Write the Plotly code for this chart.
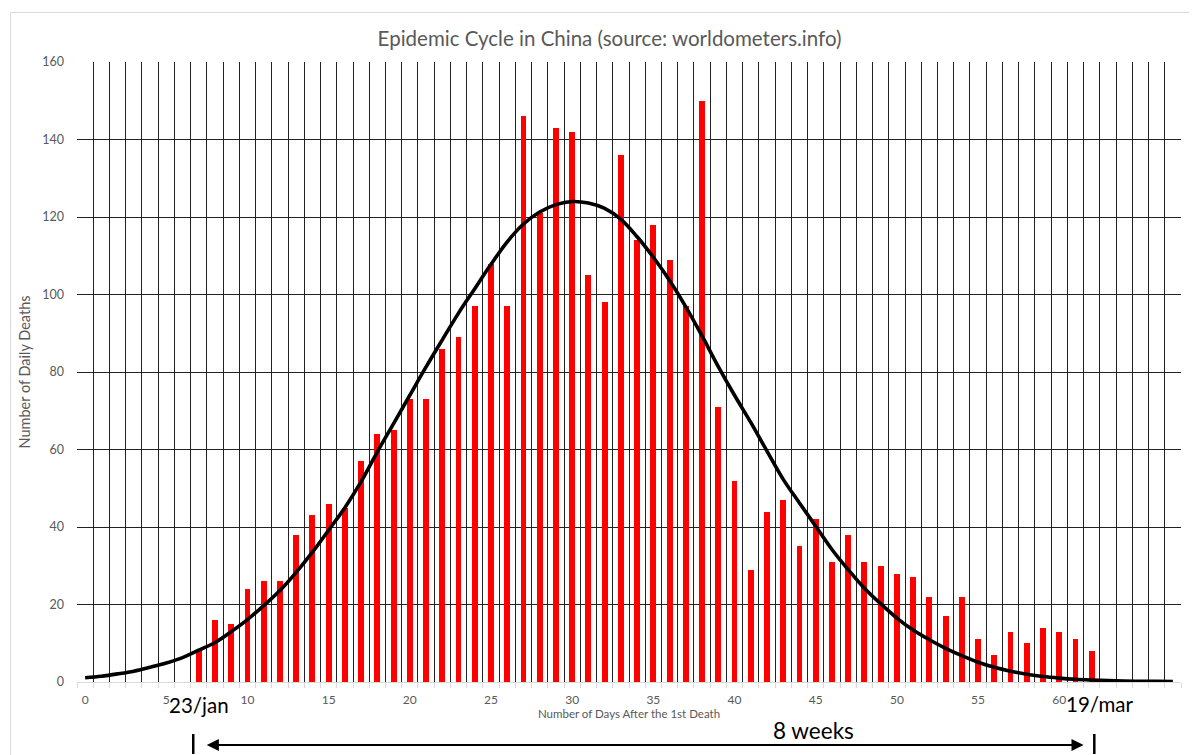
import plotly.graph_objects as go

# ---- data ----
bar_days = list(range(7, 63))
daily_deaths = [8, 16, 15, 24, 26, 26, 38, 43, 46, 45,
                57, 64, 65, 73, 73, 86, 89, 97, 108, 97,
                146, 121, 143, 142, 105, 98, 136, 114, 118, 109,
                97, 150, 71, 52, 29, 44, 47, 35, 42, 31,
                38, 31, 30, 28, 27, 22, 17, 22, 11, 7,
                13, 10, 14, 13, 11, 8]

fit_days = list(range(0, 68))
fit_values = [1.1, 1.5, 2.1, 2.8, 3.8, 4.9, 6.3, 8.2, 10.2, 13.0,
              16.1, 19.7, 23.6, 28.3, 33.5, 39.2, 45.0, 51.7, 59.4, 66.7,
              74.0, 81.3, 88.3, 95.2, 101.5, 107.8, 113.6, 118.2, 121.3, 123.2,
              124.0, 123.6, 122.2, 119.4, 114.9, 109.6, 103.6, 96.8, 89.3, 81.4,
              74.0, 67.0, 59.6, 52.3, 46.2, 40.2, 34.2, 29.0, 24.2, 20.2,
              16.5, 13.4, 10.9, 8.7, 6.8, 5.1, 3.8, 2.8, 2.0, 1.4,
              1.0, 0.7, 0.5, 0.35, 0.25, 0.2, 0.15, 0.1]

x_tick_vals = list(range(0, 61, 5))
x_tick_text = [str(v) for v in x_tick_vals]
y_tick_vals = list(range(0, 161, 20))

title_text = "Epidemic Cycle in China (source: worldometers.info)"
x_title = "Number of Days After the 1st Death"
y_title = "Number of Daily Deaths"
start_label = "23/jan"
end_label = "19/mar"
span_label = "8 weeks"
start_day = 7
end_day = 62

FONT = "Lato, 'Open Sans', sans-serif"
GREY = "#595959"

fig = go.Figure()
fig.add_trace(go.Bar(x=bar_days, y=daily_deaths, width=0.36,
                     marker=dict(color="#FF0000", line=dict(width=0)),
                     name="Daily deaths"))
fig.add_trace(go.Scatter(x=fit_days, y=fit_values, mode="lines",
                         line=dict(color="black", width=3.6, shape="spline", smoothing=1.0),
                         name="Fit", cliponaxis=False))

# page body adds an 8px margin; figure coordinates are screen minus 8
OFF = 8
W, H = 1189, 747
L, T = 77 - OFF, 62 - OFF
plot_w, plot_h = 1104, 620
R = W - L - plot_w
B = H - T - plot_h


def py(screen_y):
    """convert screen y (from top of window) to paper coordinate"""
    return (T + plot_h - (screen_y - OFF)) / plot_h


boundaries = [i - 0.5 for i in range(0, 69)]

fig.update_layout(
    width=W, height=H,
    margin=dict(l=L, r=R, t=T, b=B),
    paper_bgcolor="white", plot_bgcolor="white",
    showlegend=False,
    bargap=0,
    font=dict(family=FONT, color=GREY),
    title=dict(text=title_text, x=(609.5 - OFF) / W, xanchor="center",
               y=1 - (39 - OFF) / H, yanchor="middle", yref="container",
               font=dict(size=20.5, color=GREY, family=FONT)),
    xaxis=dict(range=[-0.5, 67.5], tickvals=x_tick_vals, ticktext=x_tick_text,
               showgrid=False, zeroline=False, ticks="",
               ticklabelstandoff=7,
               tickfont=dict(size=12, color=GREY),
               showline=True, linecolor="#d9d9d9", linewidth=1,
               minor=dict(tickvals=boundaries, showgrid=True, gridcolor="#222222",
                          gridwidth=1, ticks="outside", ticklen=5, tickcolor="#d9d9d9"),
               title=dict(text=x_title, font=dict(size=11.5, color=GREY), standoff=3)),
    yaxis=dict(range=[0, 160], tickvals=y_tick_vals, showgrid=True,
               gridcolor="#222222", gridwidth=1, zeroline=False,
               ticks="", ticklabelstandoff=12,
               tickfont=dict(size=12.5, color=GREY),
               title=dict(text=y_title, font=dict(size=14.5, color=GREY), standoff=8)),
)

# chart-area frame
fig.add_shape(type="rect", xref="paper", yref="paper",
              x0=(10.5 - OFF - L) / plot_w, x1=1.2, y0=-0.3, y1=py(12.5),
              line=dict(color="#d9d9d9", width=1), layer="below")

# date labels and span annotation
fig.add_annotation(x=start_day, y=py(705), xref="x", yref="paper", text=start_label,
                   showarrow=False, font=dict(size=20.5, color="black", family=FONT),
                   xanchor="center", yanchor="middle")
fig.add_annotation(x=end_day + 0.5, y=py(704), xref="x", yref="paper", text=end_label,
                   showarrow=False, font=dict(size=20.5, color="black", family=FONT),
                   xanchor="center", yanchor="middle")
fig.add_annotation(x=44.85, y=py(730), xref="x", yref="paper", text=span_label,
                   showarrow=False, font=dict(size=22.5, color="black", family=FONT),
                   xanchor="center", yanchor="middle")
fig.add_annotation(x=end_day - 0.5, y=py(745), xref="x", yref="paper",
                   ax=start_day + 0.4, ay=0, axref="x", ayref="pixel",
                   text="", showarrow=True, arrowside="end+start",
                   arrowhead=2, arrowsize=1.1, arrowwidth=2.2, arrowcolor="black",
                   standoff=0, startstandoff=0)
for d in (start_day - 0.34, end_day + 0.16):
    fig.add_shape(type="line", xref="x", yref="paper", x0=d, x1=d,
                  y0=py(734), y1=py(754), line=dict(color="black", width=2.5))

fig.write_html("out.html")
